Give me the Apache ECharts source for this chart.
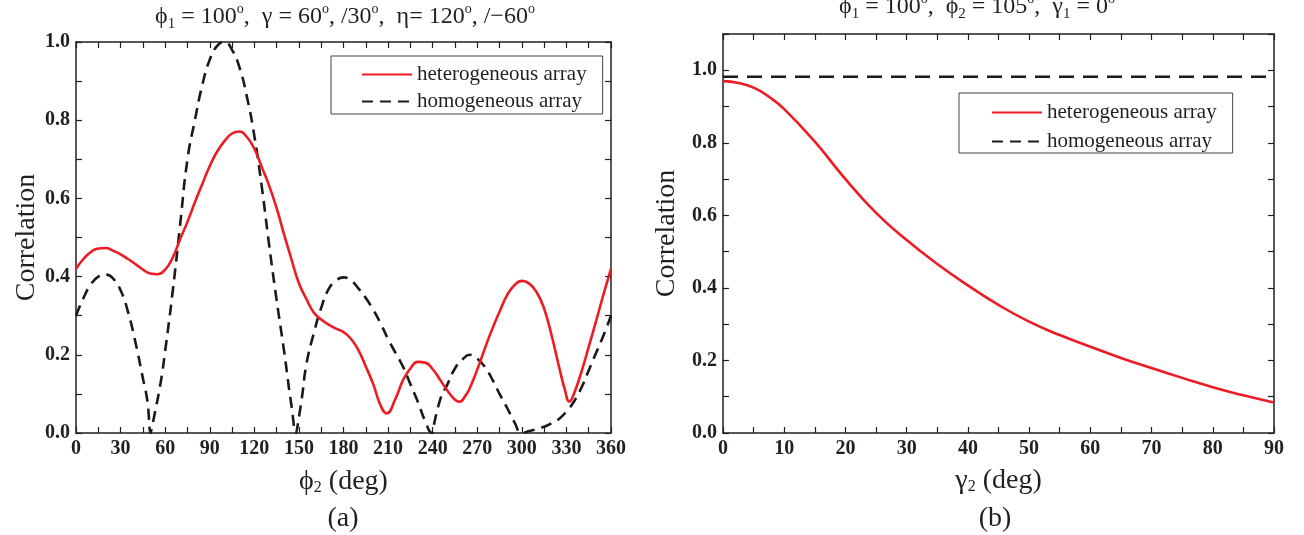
<!DOCTYPE html>
<html>
<head>
<meta charset="utf-8">
<script src="https://cdn.jsdelivr.net/npm/echarts@6/dist/echarts.min.js"></script>
<style>
  html, body { margin: 0; padding: 0; background: #fff; }
  #main { width: 1304px; height: 535px; }
</style>
</head>
<body>
<div id="main"></div>
<script>
// (a) correlation vs phi2
var hetPhi = [0, 5, 10, 15, 20, 25, 30, 35, 40, 45,
  50, 55, 60, 65, 70, 75, 80, 85, 90, 95,
  100, 105, 110, 115, 120, 125, 130, 135, 140, 145,
  150, 155, 160, 165, 170, 175, 180, 185, 190, 195,
  200, 205, 209, 215, 220, 225, 230, 235, 240, 245,
  250, 255, 258, 262, 265, 270, 275, 280, 285, 290,
  295, 300, 305, 310, 315, 320, 325, 329, 332, 335,
  340, 345, 350, 355, 360];
var hetA = [0.42, 0.445, 0.463, 0.472, 0.473, 0.466, 0.457, 0.445, 0.432, 0.418,
  0.408, 0.406, 0.418, 0.448, 0.495, 0.54, 0.59, 0.637, 0.683, 0.72,
  0.747, 0.766, 0.771, 0.757, 0.727, 0.68, 0.632, 0.575, 0.508, 0.444,
  0.383, 0.343, 0.308, 0.29, 0.277, 0.267, 0.258, 0.241, 0.212, 0.17,
  0.125, 0.07, 0.05, 0.088, 0.135, 0.165, 0.182, 0.18, 0.163, 0.136,
  0.108, 0.085, 0.08, 0.095, 0.115, 0.162, 0.215, 0.265, 0.31, 0.352,
  0.378, 0.389, 0.382, 0.36, 0.318, 0.25, 0.17, 0.11, 0.08, 0.1,
  0.155, 0.22, 0.287, 0.355, 0.42];

var homPhi = [0, 5, 10, 15, 20, 25, 30, 35, 40, 45,
  48, 50.3, 50.7, 53, 57, 60, 65, 70, 75, 80, 85,
  90, 95, 100, 105, 110, 115, 120, 125, 130, 135,
  140, 145, 148.3, 148.7, 152, 155, 160, 165, 170, 175, 180,
  185, 190, 195, 200, 205, 210, 215, 220, 225, 230,
  235, 239.8, 240.2, 245, 250, 255, 260, 265, 270, 275, 280,
  285, 290, 295, 300, 305, 310, 315, 320, 325, 330,
  335, 340, 345, 350, 355, 360];
var homA = [0.30, 0.345, 0.38, 0.40, 0.405, 0.395, 0.365, 0.31, 0.232, 0.14,
  0.083, 0.0, 0.0, 0.05, 0.13, 0.21, 0.36, 0.53, 0.70, 0.80, 0.89,
  0.955, 0.99, 1.0, 0.98, 0.935, 0.86, 0.76, 0.63, 0.48, 0.34,
  0.21, 0.07, 0.0, 0.0, 0.09, 0.175, 0.255, 0.32, 0.368, 0.39, 0.398,
  0.39, 0.37, 0.345, 0.315, 0.28, 0.24, 0.205, 0.17, 0.125, 0.08,
  0.03, 0.0, 0.0, 0.085, 0.125, 0.165, 0.188, 0.2, 0.19, 0.17, 0.138,
  0.10, 0.065, 0.028, 0.0, 0.005, 0.01, 0.016, 0.025, 0.036, 0.055,
  0.08, 0.115, 0.16, 0.205, 0.25, 0.30];

// (b) correlation vs gamma2
var gamma2 = [0, 2.5, 5, 7.5, 10, 15, 20, 25, 30, 35, 40, 45, 50, 55, 60, 65, 70, 75, 80, 85, 90];
var hetB = [0.97, 0.965, 0.952, 0.927, 0.893, 0.803, 0.70, 0.607, 0.532, 0.466, 0.407, 0.353,
  0.307, 0.27, 0.238, 0.207, 0.179, 0.152, 0.126, 0.104, 0.084];
var homB = [0.982, 0.982, 0.982, 0.982, 0.982, 0.982, 0.982, 0.982, 0.982, 0.982, 0.982, 0.982,
  0.982, 0.982, 0.982, 0.982, 0.982, 0.982, 0.982, 0.982, 0.982];

var FONT = '"Liberation Serif", "Times New Roman", serif';
var INK = '#231f20';
var RED = '#ed1c24';

function pairs(xs, ys) {
  return xs.map(function (x, i) { return [x, ys[i]]; });
}

// only label every `every`-th tick
function tickFmt(every, digits) {
  return function (v) {
    var k = v / every;
    return Math.abs(k - Math.round(k)) < 1e-6 ? v.toFixed(digits) : '';
  };
}

function axisDef(grid, max, step, every, digits, pos, name, gap) {
  var main = pos === 'bottom' || pos === 'left';
  return {
    type: 'value',
    gridIndex: grid,
    position: pos,
    min: 0,
    max: max,
    interval: step,
    name: main ? name : '',
    nameLocation: 'middle',
    nameGap: gap,
    nameRotate: pos === 'left' ? 90 : 0,
    nameTextStyle: {
      fontFamily: FONT,
      fontSize: 28,
      color: INK,
      rich: {
        s: { fontFamily: FONT, fontSize: 16, color: INK, verticalAlign: 'bottom' }
      }
    },
    axisLine: { show: true, onZero: false, lineStyle: { color: INK, width: 1.5 } },
    axisTick: { show: true, inside: true, length: 6, lineStyle: { color: INK, width: 1.2 } },
    axisLabel: {
      show: main,
      margin: 6,
      fontFamily: FONT,
      fontWeight: 'bold',
      fontSize: 20,
      color: INK,
      formatter: tickFmt(every, digits)
    },
    splitLine: { show: false }
  };
}

function legendDef(left, top, padding, gap) {
  return {
    orient: 'vertical',
    left: left,
    top: top,
    padding: padding,
    itemWidth: 50,
    itemHeight: 14,
    itemGap: gap,
    borderColor: '#444',
    borderWidth: 1,
    itemStyle: { opacity: 0 },
    textStyle: { fontFamily: FONT, fontSize: 21, color: INK, lineHeight: 20 },
    data: ['heterogeneous array', 'homogeneous array']
  };
}

var titleRich = {
  s: { fontFamily: FONT, fontSize: 15, fill: INK, verticalAlign: 'bottom' },
  o: { fontFamily: FONT, fontSize: 14, fill: INK, verticalAlign: 'top' }
};

function label(x, y, text, size) {
  return {
    type: 'text',
    x: x,
    y: y,
    style: {
      text: text,
      fontFamily: FONT,
      fontSize: size,
      lineHeight: 30,
      fill: INK,
      align: 'center',
      textAlign: 'center',
      verticalAlign: 'middle',
      textVerticalAlign: 'middle',
      rich: titleRich
    }
  };
}

var myChart = echarts.init(document.getElementById('main'));
myChart.setOption({
  backgroundColor: '#fff',
  animation: false,
  grid: [
    { left: 76, right: 693, top: 42, bottom: 102 },
    { left: 723, right: 30, top: 34, bottom: 102 }
  ],
  xAxis: [
    axisDef(0, 360, 15, 30, 0, 'bottom', '{i|ϕ}{s|2} (deg)', 35),
    axisDef(0, 360, 15, 30, 0, 'top', '', 0),
    axisDef(1, 90, 5, 10, 0, 'bottom', 'γ{s|2} (deg)', 34),
    axisDef(1, 90, 5, 10, 0, 'top', '', 0)
  ],
  yAxis: [
    axisDef(0, 1.0, 0.1, 0.2, 1, 'left', 'Correlation', 31),
    axisDef(0, 1.0, 0.1, 0.2, 1, 'right', '', 0),
    axisDef(1, 1.1, 0.1, 0.2, 1, 'left', 'Correlation', 42),
    axisDef(1, 1.1, 0.1, 0.2, 1, 'right', '', 0)
  ],
  legend: [
    legendDef(331, 56, [8, 16, 2, 30], 6),
    legendDef(959, 93, [9, 16, 1, 32], 8)
  ],
  graphic: [
    label(345, 17, 'ϕ{s|1} = 100{o|o},  γ = 60{o|o}, /30{o|o},  η= 120{o|o}, /−60{o|o}', 24),
    label(977, 7, 'ϕ{s|1} = 100{o|o},  ϕ{s|2} = 105{o|o},  γ{s|1} = 0{o|o}', 24),
    label(343, 519, '(a)', 28),
    label(995, 519, '(b)', 28)
  ],
  series: [
    {
      name: 'homogeneous array',
      type: 'line',
      xAxisIndex: 0,
      yAxisIndex: 0,
      data: pairs(homPhi, homA),
      smooth: 0.5,
      symbol: 'none',
      lineStyle: { color: '#1a1a1a', width: 2.6, type: [11, 7] },
      itemStyle: { color: '#1a1a1a' },
      z: 2
    },
    {
      name: 'heterogeneous array',
      type: 'line',
      xAxisIndex: 0,
      yAxisIndex: 0,
      data: pairs(hetPhi, hetA),
      smooth: 0.5,
      symbol: 'none',
      lineStyle: { color: RED, width: 2.6 },
      itemStyle: { color: RED },
      z: 3
    },
    {
      name: 'homogeneous array',
      type: 'line',
      xAxisIndex: 2,
      yAxisIndex: 2,
      data: pairs(gamma2, homB),
      symbol: 'none',
      lineStyle: { color: '#1a1a1a', width: 2.6, type: [15, 9] },
      itemStyle: { color: '#1a1a1a' },
      z: 2
    },
    {
      name: 'heterogeneous array',
      type: 'line',
      xAxisIndex: 2,
      yAxisIndex: 2,
      data: pairs(gamma2, hetB),
      smooth: 0.5,
      symbol: 'none',
      lineStyle: { color: RED, width: 2.6 },
      itemStyle: { color: RED },
      z: 3
    }
  ]
});
</script>
</body>
</html>
